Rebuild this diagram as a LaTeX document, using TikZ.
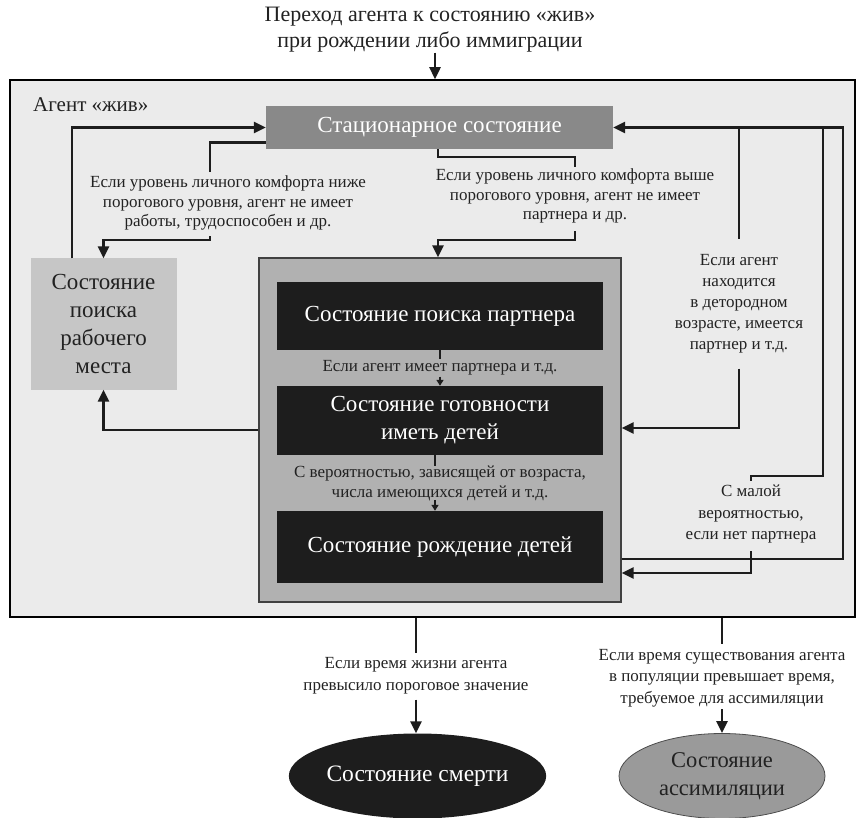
\documentclass[tikz,border=0pt]{standalone}
\usepackage{fontspec}
\setmainfont{Liberation Serif}
\usetikzlibrary{arrows.meta,shapes.geometric,calc}
\definecolor{outerbg}{HTML}{EBEBEB}
\definecolor{statbg}{HTML}{898989}
\definecolor{jobbg}{HTML}{C6C6C6}
\definecolor{innerbg}{HTML}{B1B1B1}
\definecolor{blackbg}{HTML}{1D1D1D}
\definecolor{assimbg}{HTML}{9A9A9A}
\definecolor{txt}{HTML}{222222}
\tikzset{
  conn/.style={line width=2.4pt, draw=blackbg},
  arr/.style={conn, -{Triangle[length=12pt,width=11pt]}},
  sarr/.style={line width=1.6pt, draw=blackbg, -{Triangle[length=6pt,width=7pt]}},
  sline/.style={line width=1.6pt, draw=blackbg},
  lbl/.style={align=center, font=\fontsize{17}{#1}\selectfont, text=txt, inner sep=0pt},
  lbl/.default=21,
  blackbox/.style={fill=blackbg, draw=none, text=white, minimum width=326pt, align=center, font=\fontsize{23}{28}\selectfont, inner sep=0pt},
  bigtxt/.style={font=\fontsize{22}{26}\selectfont, align=center, text=txt, inner sep=0pt}
}
\begin{document}
\begin{tikzpicture}[x=1pt,y=-1pt]
\useasboundingbox (0,0) rectangle (856,818);
% title
\node[bigtxt] (title) at (430,30) {Переход агента к состоянию «жив»\\при рождении либо иммиграции};
% outer box
\node[draw=black, line width=1.5pt, fill=outerbg, minimum width=845pt, minimum height=537pt, inner sep=0pt] (outer) at (432.5,348.5) {};
\node[font=\fontsize{21}{24}\selectfont, text=txt, anchor=west, inner sep=0pt] (agent) at (33,105) {Агент «жив»};
% stationary
\node[fill=statbg, text=white, minimum width=347pt, minimum height=43pt, inner sep=0pt, font=\fontsize{23}{26}\selectfont] (stat) at (439.5,127.5) {Стационарное состояние};
% job
\node[fill=jobbg, text=txt, minimum width=146pt, minimum height=131pt, inner sep=0pt, align=center, font=\fontsize{23}{28}\selectfont] (job) at (103.5,324) {Состояние\\поиска\\рабочего\\места};
% inner
\node[draw=black!75, line width=1.3pt, fill=innerbg, minimum width=362pt, minimum height=344pt, inner sep=0pt] (inner) at (440,430) {};
\node[blackbox, minimum height=68pt] (b1) at (440,316) {Состояние поиска партнера};
\node[blackbox, minimum height=69pt] (b2) at (440,420.5) {Состояние готовности\\иметь детей};
\node[blackbox, minimum height=72pt] (b3) at (440,547) {Состояние рождение детей};
\node[lbl] (la) at (440,368) {Если агент имеет партнера и т.д.};
\node[lbl=20] (lb) at (440,483) {С вероятностью, зависящей от возраста,\\числа имеющихся детей и т.д.};
% labels
\node[lbl=19.5] (L1) at (228,203) {Если уровень личного комфорта ниже\\порогового уровня, агент не имеет\\работы, трудоспособен и др.};
\node[lbl=19.5] (L2) at (575,196) {Если уровень личного комфорта выше\\порогового уровня, агент не имеет\\партнера и др.};
\node[lbl] (R1) at (739,304) {Если агент\\находится\\в детородном\\возрасте, имеется\\партнер и т.д.};
\node[lbl=21.5] (R2) at (751,514) {С малой\\вероятностью,\\если нет партнера};
\node[lbl=22] (D1) at (416,676) {Если время жизни агента\\превысило пороговое значение};
\node[lbl=21.5] (A1) at (722,678) {Если время существования агента\\в популяции превышает время,\\требуемое для ассимиляции};
% ellipses
\node[ellipse, fill=blackbg, text=white, minimum width=211pt, minimum height=85pt, inner sep=0pt, font=\fontsize{23.5}{28}\selectfont] (death) at (417.5,776) {Состояние смерти};
\node[ellipse, draw=black!70, line width=0.8pt, fill=assimbg, text=txt, minimum width=206pt, minimum height=85pt, inner sep=0pt, align=center, font=\fontsize{22.5}{28}\selectfont] (assim) at (722,776) {Состояние\\ассимиляции};
% helper coordinates
\coordinate (x72) at (72,0);
\coordinate (x210) at (210,0);
\coordinate (x438) at (438,0);
\coordinate (x575) at (575,0);
\coordinate (x823) at (823,0);
\coordinate (x843) at (843,0);
\coordinate (x751) at (751,0);
% connectors
\draw[arr] ([xshift=5pt]title.south) -- ([xshift=5pt]title.south |- outer.north);
\draw[arr] (job.north -| x72) |- (stat.west);
\draw[conn] ([yshift=-15pt]stat.west) -| ($(L1.north -| x210)+(0,-4)$);
\draw[arr] ($(L1.south -| x210)+(0,6)$) |- (0,240 -| job.north) -- (job.north);
\draw[conn] (stat.south -| x438) |- (0,157 -| x575) -- ($(L2.north -| x575)+(0,-2)$);
\draw[arr] ($(L2.south -| x575)+(0,8)$) |- (0,240 -| x438) -- (inner.north -| x438);
\draw[arr] (inner.west) -| (job.south);
\draw[sline] (b1.south) -- ($(la.north)+(0,-1)$);
\draw[sarr] ($(la.south)+(0,1)$) -- (b2.north);
\draw[sline] ([xshift=-5pt]b2.south) -- ([xshift=-5pt,yshift=-1pt]lb.north);
\draw[sarr] ([xshift=-5pt,yshift=1pt]lb.south) -- ([xshift=-5pt]b3.north);
% right side
\draw[arr] ([yshift=-129pt]inner.east) -| (stat.east -| x843) -- (stat.east);
\draw[conn] (stat.east -| R1.north) -- ($(R1.north)+(0,-15)$);
\draw[arr] ($(R1.south)+(0,15)$) |- ([yshift=2pt]inner.east);
\draw[conn] (stat.east -| x823) |- (0,476 -| x751) -- ($(R2.north)+(0,-4)$);
\draw[arr] ($(R2.south)+(0,8)$) |- ([yshift=-143pt]inner.east);
% bottom
\draw[conn] (outer.south -| D1.north) -- ($(D1.north)+(0,-4)$);
\draw[arr] ($(D1.south)+(0,5)$) -- (death.north -| D1.south);
\draw[conn] (outer.south -| A1.north) -- ($(A1.north)+(0,-5)$);
\draw[arr] ($(A1.south)+(0,2)$) -- (assim.north -| A1.south);
\end{tikzpicture}
\end{document}
